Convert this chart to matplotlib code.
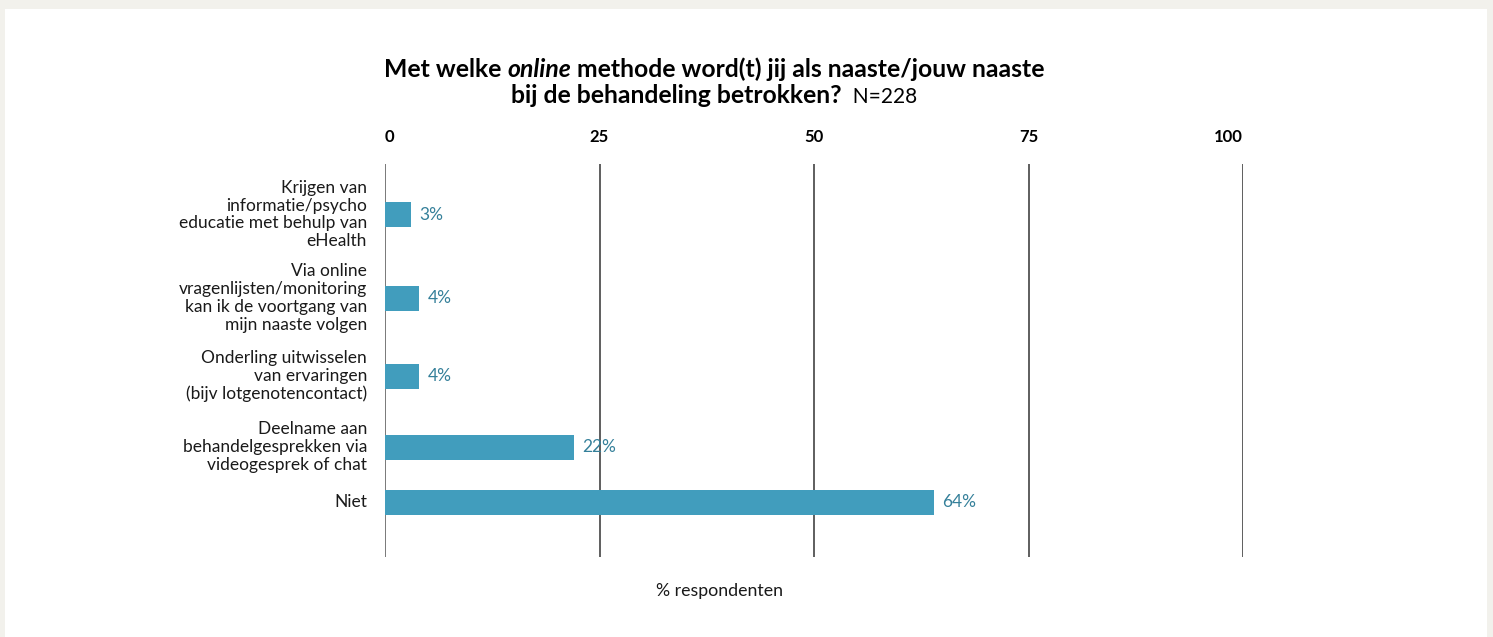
import matplotlib
matplotlib.use("Agg")
import matplotlib.pyplot as plt
from matplotlib.patches import Rectangle

plt.rcParams['font.family'] = ['Lato', 'DejaVu Sans']

# gegevens
categorieen = [
    "Krijgen van\ninformatie/psycho\neducatie met behulp van\neHealth",
    "Via online\nvragenlijsten/monitoring\nkan ik de voortgang van\nmijn naaste volgen",
    "Onderling uitwisselen\nvan ervaringen\n(bijv lotgenotencontact)",
    "Deelname aan\nbehandelgesprekken via\nvideogesprek of chat",
    "Niet",
]
percentages = [3, 4, 4, 22, 64]
ticks = [0, 25, 50, 75, 100]

# opmaak
balk_kleur = '#419dbd'
label_kleur = '#35809a'
tekst_kleur = '#1a1a1a'
y_pos = [50.5, 134, 212, 283, 338]   # verticale plek per balk (asseenheden)
balk_hoogte = 25

W, H = 1493, 637
fig = plt.figure(figsize=(W / 100, H / 100), dpi=100)
fig.patch.set_facecolor('#f2f1ec')
fig.patches.append(Rectangle((5 / W, 0), 1482 / W, 1 - 9 / H, transform=fig.transFigure,
                             facecolor='white', edgecolor='none', zorder=-10))

ax = fig.add_axes([385 / W, 1 - 557 / H, (1243 - 385) / W, (557 - 164) / H])
ax.set_zorder(1)
ax.set_facecolor('none')
ax.set_xlim(0, 100)
ax.set_ylim(393, 0)

for x in ticks:
    ax.axvline(x, color='#555555' if x == 0 else '#333333', lw=1.1, zorder=1)

ax.barh(y_pos, percentages, height=balk_hoogte, color=balk_kleur, zorder=2)
for y, p in zip(y_pos, percentages):
    ax.annotate(f"{p}%", (p, y), xytext=(6, 0), textcoords='offset points',
                va='center', ha='left', fontsize=12.5, color=label_kleur, zorder=3)

for y, c in zip(y_pos, categorieen):
    ax.annotate(c, (0, y), xytext=(-13, 0), textcoords='offset points',
                va='center', ha='right', fontsize=12.5, color=tekst_kleur,
                linespacing=1.15, annotation_clip=False)

for s in ax.spines.values():
    s.set_visible(False)
ax.set_yticks([])
ax.set_xticks([])
for i, t in enumerate(ticks):
    ha = 'left' if i == 0 else ('right' if i == len(ticks) - 1 else 'center')
    ax.text(t, -27, str(t), ha=ha, va='center', fontsize=12, fontweight='bold',
            color='black', clip_on=False)

fig.text(720 / W, 1 - 591 / H, "% respondenten", ha='center', va='center',
         fontsize=12.8, color=tekst_kleur)


# titel met gemengde stijlen, gecentreerd
def rich_line(stukken, xc, y, size=17.8):
    renderer = fig.canvas.get_renderer()
    teksten = []
    for s, stijl in stukken:
        t = fig.text(0, y, s, fontsize=stijl.get('size', size), fontweight=stijl.get('weight', 'bold'),
                     fontstyle=stijl.get('style', 'normal'), va='baseline', ha='left', color='black')
        teksten.append(t)
    breedtes = [t.get_window_extent(renderer).width for t in teksten]
    x = xc * W - sum(breedtes) / 2
    for t, b in zip(teksten, breedtes):
        t.set_x(x / W)
        x += b


rich_line([("Met welke ", {}), ("online", {'style': 'italic'}),
           (" methode word(t) jij als naaste/jouw naaste", {})], 714 / W, 1 - 77 / H)
rich_line([("bij de behandeling betrokken?", {}),
           ("  N=228", {'weight': 'normal', 'size': 15})], 714 / W, 1 - 103 / H)

fig.savefig("out.png", dpi=100, facecolor=fig.get_facecolor())
